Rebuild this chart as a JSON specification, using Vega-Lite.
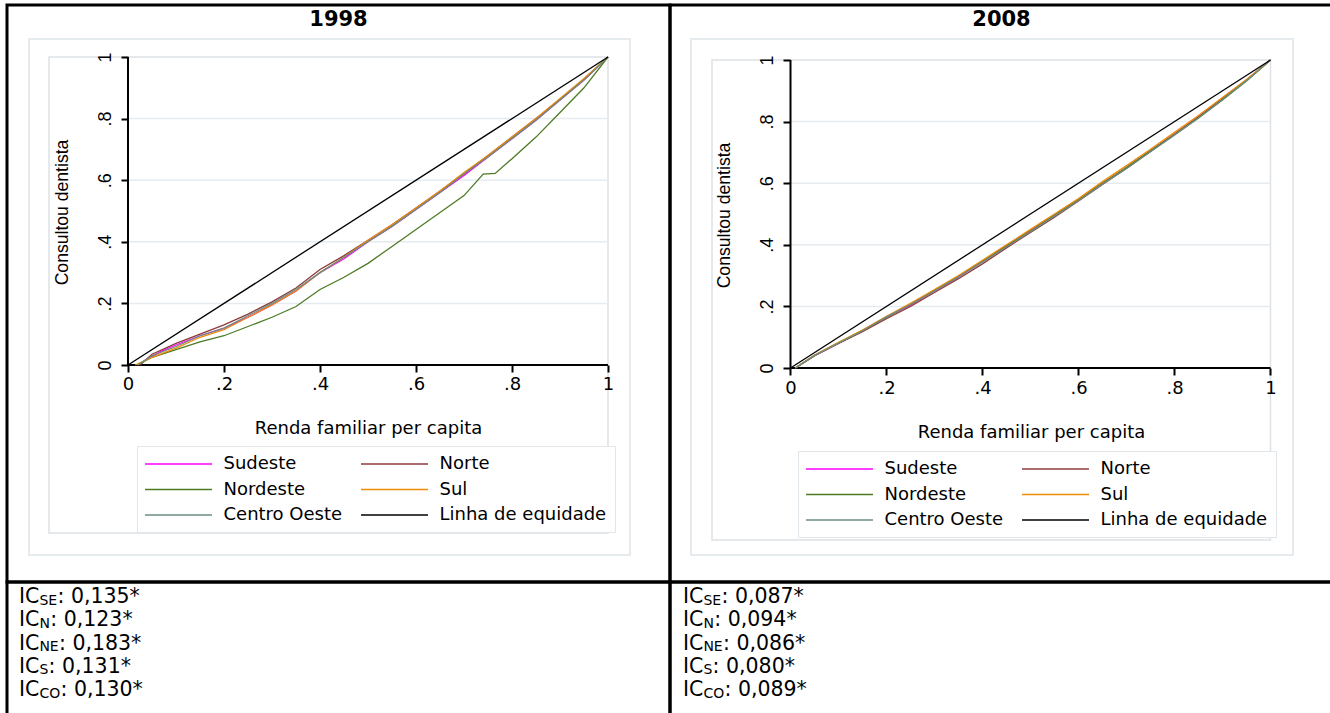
{
  "$schema": "https://vega.github.io/schema/vega-lite/v6.json",
  "background": "white",
  "padding": {"left": 5, "top": 3, "right": -5, "bottom": -6},
  "config": {
    "view": {"stroke": "black", "strokeWidth": 3},
    "font": "DejaVu Sans"
  },
  "datasets": {
    "grade": [{"v": 0.2}, {"v": 0.4}, {"v": 0.6}, {"v": 0.8}],
    "ic": [
      {"a": "1998", "o": 1, "sub": "SE", "val": ": 0,135*"},
      {"a": "1998", "o": 2, "sub": "N", "val": ": 0,123*"},
      {"a": "1998", "o": 3, "sub": "NE", "val": ": 0,183*"},
      {"a": "1998", "o": 4, "sub": "S", "val": ": 0,131*"},
      {"a": "1998", "o": 5, "sub": "CO", "val": ": 0,130*"},
      {"a": "2008", "o": 1, "sub": "SE", "val": ": 0,087*"},
      {"a": "2008", "o": 2, "sub": "N", "val": ": 0,094*"},
      {"a": "2008", "o": 3, "sub": "NE", "val": ": 0,086*"},
      {"a": "2008", "o": 4, "sub": "S", "val": ": 0,080*"},
      {"a": "2008", "o": 5, "sub": "CO", "val": ": 0,089*"}
    ],
    "curvas": [
      {"a":"1998","s":"Sudeste","x":0.02,"y":0},{"a":"1998","s":"Sudeste","x":0.04,"y":0.02},{"a":"1998","s":"Sudeste","x":0.07,"y":0.045},{"a":"1998","s":"Sudeste","x":0.1,"y":0.065},{"a":"1998","s":"Sudeste","x":0.15,"y":0.095},{"a":"1998","s":"Sudeste","x":0.2,"y":0.12},{"a":"1998","s":"Sudeste","x":0.25,"y":0.155},{"a":"1998","s":"Sudeste","x":0.3,"y":0.195},{"a":"1998","s":"Sudeste","x":0.35,"y":0.24},{"a":"1998","s":"Sudeste","x":0.4,"y":0.3},{"a":"1998","s":"Sudeste","x":0.45,"y":0.345},{"a":"1998","s":"Sudeste","x":0.5,"y":0.4},{"a":"1998","s":"Sudeste","x":0.55,"y":0.45},{"a":"1998","s":"Sudeste","x":0.6,"y":0.505},{"a":"1998","s":"Sudeste","x":0.65,"y":0.56},{"a":"1998","s":"Sudeste","x":0.7,"y":0.615},{"a":"1998","s":"Sudeste","x":0.75,"y":0.675},{"a":"1998","s":"Sudeste","x":0.8,"y":0.735},{"a":"1998","s":"Sudeste","x":0.85,"y":0.795},{"a":"1998","s":"Sudeste","x":0.9,"y":0.86},{"a":"1998","s":"Sudeste","x":0.95,"y":0.925},{"a":"1998","s":"Sudeste","x":1,"y":1},
      {"a":"1998","s":"Norte","x":0.025,"y":0},{"a":"1998","s":"Norte","x":0.05,"y":0.035},{"a":"1998","s":"Norte","x":0.1,"y":0.07},{"a":"1998","s":"Norte","x":0.15,"y":0.1},{"a":"1998","s":"Norte","x":0.2,"y":0.13},{"a":"1998","s":"Norte","x":0.25,"y":0.165},{"a":"1998","s":"Norte","x":0.3,"y":0.205},{"a":"1998","s":"Norte","x":0.35,"y":0.25},{"a":"1998","s":"Norte","x":0.4,"y":0.31},{"a":"1998","s":"Norte","x":0.45,"y":0.355},{"a":"1998","s":"Norte","x":0.5,"y":0.405},{"a":"1998","s":"Norte","x":0.55,"y":0.455},{"a":"1998","s":"Norte","x":0.6,"y":0.51},{"a":"1998","s":"Norte","x":0.65,"y":0.565},{"a":"1998","s":"Norte","x":0.7,"y":0.62},{"a":"1998","s":"Norte","x":0.75,"y":0.68},{"a":"1998","s":"Norte","x":0.8,"y":0.74},{"a":"1998","s":"Norte","x":0.85,"y":0.8},{"a":"1998","s":"Norte","x":0.9,"y":0.862},{"a":"1998","s":"Norte","x":0.95,"y":0.928},{"a":"1998","s":"Norte","x":1,"y":1},
      {"a":"1998","s":"Nordeste","x":0.02,"y":0},{"a":"1998","s":"Nordeste","x":0.05,"y":0.025},{"a":"1998","s":"Nordeste","x":0.1,"y":0.05},{"a":"1998","s":"Nordeste","x":0.15,"y":0.075},{"a":"1998","s":"Nordeste","x":0.2,"y":0.095},{"a":"1998","s":"Nordeste","x":0.25,"y":0.125},{"a":"1998","s":"Nordeste","x":0.3,"y":0.155},{"a":"1998","s":"Nordeste","x":0.35,"y":0.19},{"a":"1998","s":"Nordeste","x":0.4,"y":0.245},{"a":"1998","s":"Nordeste","x":0.45,"y":0.285},{"a":"1998","s":"Nordeste","x":0.5,"y":0.33},{"a":"1998","s":"Nordeste","x":0.55,"y":0.385},{"a":"1998","s":"Nordeste","x":0.6,"y":0.44},{"a":"1998","s":"Nordeste","x":0.65,"y":0.495},{"a":"1998","s":"Nordeste","x":0.7,"y":0.55},{"a":"1998","s":"Nordeste","x":0.74,"y":0.62},{"a":"1998","s":"Nordeste","x":0.765,"y":0.622},{"a":"1998","s":"Nordeste","x":0.8,"y":0.67},{"a":"1998","s":"Nordeste","x":0.85,"y":0.74},{"a":"1998","s":"Nordeste","x":0.9,"y":0.82},{"a":"1998","s":"Nordeste","x":0.95,"y":0.9},{"a":"1998","s":"Nordeste","x":1,"y":1},
      {"a":"1998","s":"Sul","x":0.015,"y":0},{"a":"1998","s":"Sul","x":0.05,"y":0.025},{"a":"1998","s":"Sul","x":0.1,"y":0.055},{"a":"1998","s":"Sul","x":0.15,"y":0.09},{"a":"1998","s":"Sul","x":0.2,"y":0.115},{"a":"1998","s":"Sul","x":0.25,"y":0.155},{"a":"1998","s":"Sul","x":0.3,"y":0.195},{"a":"1998","s":"Sul","x":0.35,"y":0.24},{"a":"1998","s":"Sul","x":0.4,"y":0.3},{"a":"1998","s":"Sul","x":0.45,"y":0.35},{"a":"1998","s":"Sul","x":0.5,"y":0.405},{"a":"1998","s":"Sul","x":0.55,"y":0.455},{"a":"1998","s":"Sul","x":0.6,"y":0.51},{"a":"1998","s":"Sul","x":0.65,"y":0.565},{"a":"1998","s":"Sul","x":0.7,"y":0.625},{"a":"1998","s":"Sul","x":0.75,"y":0.68},{"a":"1998","s":"Sul","x":0.8,"y":0.74},{"a":"1998","s":"Sul","x":0.85,"y":0.8},{"a":"1998","s":"Sul","x":0.9,"y":0.865},{"a":"1998","s":"Sul","x":0.95,"y":0.93},{"a":"1998","s":"Sul","x":1,"y":1},
      {"a":"1998","s":"Centro Oeste","x":0.02,"y":0},{"a":"1998","s":"Centro Oeste","x":0.05,"y":0.03},{"a":"1998","s":"Centro Oeste","x":0.1,"y":0.06},{"a":"1998","s":"Centro Oeste","x":0.15,"y":0.095},{"a":"1998","s":"Centro Oeste","x":0.2,"y":0.12},{"a":"1998","s":"Centro Oeste","x":0.25,"y":0.16},{"a":"1998","s":"Centro Oeste","x":0.3,"y":0.2},{"a":"1998","s":"Centro Oeste","x":0.35,"y":0.245},{"a":"1998","s":"Centro Oeste","x":0.4,"y":0.3},{"a":"1998","s":"Centro Oeste","x":0.45,"y":0.35},{"a":"1998","s":"Centro Oeste","x":0.5,"y":0.4},{"a":"1998","s":"Centro Oeste","x":0.55,"y":0.45},{"a":"1998","s":"Centro Oeste","x":0.6,"y":0.505},{"a":"1998","s":"Centro Oeste","x":0.65,"y":0.56},{"a":"1998","s":"Centro Oeste","x":0.7,"y":0.62},{"a":"1998","s":"Centro Oeste","x":0.75,"y":0.675},{"a":"1998","s":"Centro Oeste","x":0.8,"y":0.735},{"a":"1998","s":"Centro Oeste","x":0.85,"y":0.795},{"a":"1998","s":"Centro Oeste","x":0.9,"y":0.86},{"a":"1998","s":"Centro Oeste","x":0.95,"y":0.925},{"a":"1998","s":"Centro Oeste","x":1,"y":1},
      {"a":"1998","s":"Linha de equidade","x":0,"y":0},{"a":"1998","s":"Linha de equidade","x":1,"y":1},
      {"a":"2008","s":"Sudeste","x":0.01,"y":0},{"a":"2008","s":"Sudeste","x":0.05,"y":0.04},{"a":"2008","s":"Sudeste","x":0.1,"y":0.08},{"a":"2008","s":"Sudeste","x":0.15,"y":0.12},{"a":"2008","s":"Sudeste","x":0.2,"y":0.165},{"a":"2008","s":"Sudeste","x":0.25,"y":0.205},{"a":"2008","s":"Sudeste","x":0.3,"y":0.25},{"a":"2008","s":"Sudeste","x":0.35,"y":0.295},{"a":"2008","s":"Sudeste","x":0.4,"y":0.345},{"a":"2008","s":"Sudeste","x":0.45,"y":0.395},{"a":"2008","s":"Sudeste","x":0.5,"y":0.445},{"a":"2008","s":"Sudeste","x":0.55,"y":0.495},{"a":"2008","s":"Sudeste","x":0.6,"y":0.545},{"a":"2008","s":"Sudeste","x":0.65,"y":0.6},{"a":"2008","s":"Sudeste","x":0.7,"y":0.65},{"a":"2008","s":"Sudeste","x":0.75,"y":0.705},{"a":"2008","s":"Sudeste","x":0.8,"y":0.76},{"a":"2008","s":"Sudeste","x":0.85,"y":0.815},{"a":"2008","s":"Sudeste","x":0.9,"y":0.875},{"a":"2008","s":"Sudeste","x":0.95,"y":0.935},{"a":"2008","s":"Sudeste","x":1,"y":1},
      {"a":"2008","s":"Norte","x":0.01,"y":0},{"a":"2008","s":"Norte","x":0.05,"y":0.04},{"a":"2008","s":"Norte","x":0.1,"y":0.08},{"a":"2008","s":"Norte","x":0.15,"y":0.118},{"a":"2008","s":"Norte","x":0.2,"y":0.16},{"a":"2008","s":"Norte","x":0.25,"y":0.2},{"a":"2008","s":"Norte","x":0.3,"y":0.245},{"a":"2008","s":"Norte","x":0.35,"y":0.29},{"a":"2008","s":"Norte","x":0.4,"y":0.338},{"a":"2008","s":"Norte","x":0.45,"y":0.39},{"a":"2008","s":"Norte","x":0.5,"y":0.44},{"a":"2008","s":"Norte","x":0.55,"y":0.49},{"a":"2008","s":"Norte","x":0.6,"y":0.542},{"a":"2008","s":"Norte","x":0.65,"y":0.596},{"a":"2008","s":"Norte","x":0.7,"y":0.648},{"a":"2008","s":"Norte","x":0.75,"y":0.703},{"a":"2008","s":"Norte","x":0.8,"y":0.758},{"a":"2008","s":"Norte","x":0.85,"y":0.815},{"a":"2008","s":"Norte","x":0.9,"y":0.875},{"a":"2008","s":"Norte","x":0.95,"y":0.935},{"a":"2008","s":"Norte","x":1,"y":1},
      {"a":"2008","s":"Nordeste","x":0.01,"y":0},{"a":"2008","s":"Nordeste","x":0.05,"y":0.04},{"a":"2008","s":"Nordeste","x":0.1,"y":0.082},{"a":"2008","s":"Nordeste","x":0.15,"y":0.122},{"a":"2008","s":"Nordeste","x":0.2,"y":0.165},{"a":"2008","s":"Nordeste","x":0.25,"y":0.207},{"a":"2008","s":"Nordeste","x":0.3,"y":0.252},{"a":"2008","s":"Nordeste","x":0.35,"y":0.298},{"a":"2008","s":"Nordeste","x":0.4,"y":0.347},{"a":"2008","s":"Nordeste","x":0.45,"y":0.397},{"a":"2008","s":"Nordeste","x":0.5,"y":0.447},{"a":"2008","s":"Nordeste","x":0.55,"y":0.497},{"a":"2008","s":"Nordeste","x":0.6,"y":0.547},{"a":"2008","s":"Nordeste","x":0.65,"y":0.6},{"a":"2008","s":"Nordeste","x":0.7,"y":0.652},{"a":"2008","s":"Nordeste","x":0.75,"y":0.705},{"a":"2008","s":"Nordeste","x":0.8,"y":0.758},{"a":"2008","s":"Nordeste","x":0.85,"y":0.812},{"a":"2008","s":"Nordeste","x":0.9,"y":0.87},{"a":"2008","s":"Nordeste","x":0.95,"y":0.932},{"a":"2008","s":"Nordeste","x":1,"y":1},
      {"a":"2008","s":"Sul","x":0.01,"y":0},{"a":"2008","s":"Sul","x":0.05,"y":0.042},{"a":"2008","s":"Sul","x":0.1,"y":0.083},{"a":"2008","s":"Sul","x":0.15,"y":0.123},{"a":"2008","s":"Sul","x":0.2,"y":0.168},{"a":"2008","s":"Sul","x":0.25,"y":0.21},{"a":"2008","s":"Sul","x":0.3,"y":0.255},{"a":"2008","s":"Sul","x":0.35,"y":0.3},{"a":"2008","s":"Sul","x":0.4,"y":0.35},{"a":"2008","s":"Sul","x":0.45,"y":0.4},{"a":"2008","s":"Sul","x":0.5,"y":0.45},{"a":"2008","s":"Sul","x":0.55,"y":0.5},{"a":"2008","s":"Sul","x":0.6,"y":0.55},{"a":"2008","s":"Sul","x":0.65,"y":0.605},{"a":"2008","s":"Sul","x":0.7,"y":0.657},{"a":"2008","s":"Sul","x":0.75,"y":0.71},{"a":"2008","s":"Sul","x":0.8,"y":0.765},{"a":"2008","s":"Sul","x":0.85,"y":0.82},{"a":"2008","s":"Sul","x":0.9,"y":0.878},{"a":"2008","s":"Sul","x":0.95,"y":0.937},{"a":"2008","s":"Sul","x":1,"y":1},
      {"a":"2008","s":"Centro Oeste","x":0.01,"y":0},{"a":"2008","s":"Centro Oeste","x":0.05,"y":0.041},{"a":"2008","s":"Centro Oeste","x":0.1,"y":0.081},{"a":"2008","s":"Centro Oeste","x":0.15,"y":0.121},{"a":"2008","s":"Centro Oeste","x":0.2,"y":0.166},{"a":"2008","s":"Centro Oeste","x":0.25,"y":0.206},{"a":"2008","s":"Centro Oeste","x":0.3,"y":0.25},{"a":"2008","s":"Centro Oeste","x":0.35,"y":0.296},{"a":"2008","s":"Centro Oeste","x":0.4,"y":0.344},{"a":"2008","s":"Centro Oeste","x":0.45,"y":0.393},{"a":"2008","s":"Centro Oeste","x":0.5,"y":0.443},{"a":"2008","s":"Centro Oeste","x":0.55,"y":0.493},{"a":"2008","s":"Centro Oeste","x":0.6,"y":0.543},{"a":"2008","s":"Centro Oeste","x":0.65,"y":0.597},{"a":"2008","s":"Centro Oeste","x":0.7,"y":0.648},{"a":"2008","s":"Centro Oeste","x":0.75,"y":0.702},{"a":"2008","s":"Centro Oeste","x":0.8,"y":0.756},{"a":"2008","s":"Centro Oeste","x":0.85,"y":0.812},{"a":"2008","s":"Centro Oeste","x":0.9,"y":0.872},{"a":"2008","s":"Centro Oeste","x":0.95,"y":0.933},{"a":"2008","s":"Centro Oeste","x":1,"y":1},
      {"a":"2008","s":"Linha de equidade","x":0,"y":0},{"a":"2008","s":"Linha de equidade","x":1,"y":1}
    ]
  },
  "columns": 2,
  "spacing": 0,
  "bounds": "flush",
  "resolve": {"scale": {"color": "independent", "strokeWidth": "independent"}},
  "concat": [
    {
      "width": 663,
      "height": 577,
      "title": {"text": "1998", "font": "DejaVu Sans", "fontSize": 21, "fontWeight": "bold", "color": "black", "anchor": "middle", "frame": "group", "baseline": "top", "offset": -25},
      "layer": [
        {
          "data": {"values": [{}]},
          "mark": {"type": "rect", "fill": "white", "stroke": "#e6ebee", "strokeWidth": 2},
          "encoding": {
            "x": {"datum": -0.20625, "type": "quantitative", "scale": {"domain": [-0.25208, 1.12917], "nice": false, "zero": false}},
            "x2": {"datum": 1.04583},
            "y": {"datum": 1.05844, "type": "quantitative", "scale": {"domain": [-0.70455, 1.16883], "nice": false, "zero": false}},
            "y2": {"datum": -0.61688}
          }
        },
        {
          "data": {"values": [{}]},
          "mark": {"type": "rect", "fill": "white", "fillOpacity": 0, "stroke": "#dde2e6", "strokeWidth": 1.5},
          "encoding": {
            "x": {"datum": -0.16458, "type": "quantitative"},
            "x2": {"datum": 1},
            "y": {"datum": 1, "type": "quantitative"},
            "y2": {"datum": -0.54545}
          }
        },
        {
          "data": {"name": "grade"},
          "mark": {"type": "rule", "color": "#e5ebef", "strokeWidth": 1.5},
          "encoding": {
            "x": {"datum": 0, "type": "quantitative"},
            "x2": {"datum": 1},
            "y": {"field": "v", "type": "quantitative"}
          }
        },
        {
          "data": {"values": [{}]},
          "mark": {"type": "rule", "color": "black", "strokeWidth": 2},
          "encoding": {
            "x": {"datum": 0, "type": "quantitative"},
            "x2": {"datum": 1},
            "y": {"datum": 0, "type": "quantitative"}
          }
        },
        {
          "data": {"values": [{}]},
          "mark": {"type": "rule", "color": "black", "strokeWidth": 2},
          "encoding": {
            "x": {"datum": 0, "type": "quantitative"},
            "y": {"datum": 0, "type": "quantitative"},
            "y2": {"datum": 1}
          }
        },
        {
          "data": {"name": "curvas"},
          "transform": [{"filter": "datum.a == '1998'"}],
          "mark": {"type": "line"},
          "encoding": {
            "x": {"field": "x", "type": "quantitative",
              "axis": {"zindex": 1, "orient": "bottom", "offset": -217, "values": [0, 0.2, 0.4, 0.6, 0.8, 1], "labelExpr": "datum.value == 0 ? '0' : datum.value == 1 ? '1' : replace(format(datum.value, '.1f'), '0.', '.')", "grid": false, "domain": false, "ticks": true, "tickColor": "black", "tickWidth": 2, "tickSize": 7, "labels": true, "labelFont": "DejaVu Sans", "labelFontSize": 18, "labelColor": "black", "labelPadding": 3, "labelFlush": false, "labelOverlap": false, "title": "Renda familiar per capita", "titleFont": "DejaVu Sans", "titleFontSize": 18, "titleFontWeight": "normal", "titleColor": "black", "titlePadding": 26, "titleX": 361}},
            "y": {"field": "y", "type": "quantitative",
              "axis": {"zindex": 1, "orient": "left", "offset": -121, "values": [0, 0.2, 0.4, 0.6, 0.8, 1], "labelExpr": "datum.value == 0 ? '0' : datum.value == 1 ? '1' : replace(format(datum.value, '.1f'), '0.', '.')", "grid": false, "domain": false, "ticks": true, "tickColor": "black", "tickWidth": 2, "tickSize": 7, "labels": true, "labelAngle": -90, "labelAlign": "center", "labelBaseline": "bottom", "labelFont": "Liberation Sans", "labelFontSize": 18, "labelColor": "black", "labelPadding": 7, "labelFlush": false, "labelOverlap": false, "title": "Consultou dentista", "titleFont": "Liberation Sans", "titleFontSize": 17.6, "titleFontWeight": "normal", "titleColor": "black", "titlePadding": 25, "titleY": 207}},
            "color": {"field": "s", "type": "nominal",
              "scale": {"domain": ["Sudeste", "Nordeste", "Centro Oeste", "Norte", "Sul", "Linha de equidade"], "range": ["#ff00ff", "#4c7b25", "#6b8e80", "#8e3b3b", "#ee8a07", "#000000"]},
              "legend": {"orient": "none", "legendX": 130, "legendY": 441, "title": null, "columns": 2, "direction": "vertical", "symbolType": "M-3.72,0H3.72", "symbolSize": 324, "symbolOffset": 23.5, "labelOffset": 35, "labelFont": "DejaVu Sans", "labelFontSize": 18, "labelColor": "black", "columnPadding": 15, "rowPadding": 6.5, "padding": 8, "strokeColor": "#e1e6ea", "fillColor": "white", "labelLimit": 400}},
            "strokeWidth": {"field": "s", "type": "nominal",
              "scale": {"domain": ["Sudeste", "Nordeste", "Centro Oeste", "Norte", "Sul", "Linha de equidade"], "range": [1.3, 1.3, 2, 1.3, 1.3, 2]},
              "legend": {"orient": "none", "legendX": 130, "legendY": 441, "title": null, "columns": 2, "direction": "vertical", "symbolType": "M-3.72,0H3.72", "symbolSize": 324, "symbolOffset": 23.5, "labelOffset": 35, "labelFont": "DejaVu Sans", "labelFontSize": 18, "labelColor": "black", "columnPadding": 15, "rowPadding": 6.5, "padding": 8, "strokeColor": "#e1e6ea", "fillColor": "white", "labelLimit": 400}}
          }
        }
      ]
    },
    {
      "width": 663,
      "height": 577,
      "title": {"text": "2008", "font": "DejaVu Sans", "fontSize": 21, "fontWeight": "bold", "color": "black", "anchor": "middle", "frame": "group", "baseline": "top", "offset": -25},
      "layer": [
        {
          "data": {"values": [{}]},
          "mark": {"type": "rect", "fill": "white", "stroke": "#e6ebee", "strokeWidth": 2},
          "encoding": {
            "x": {"datum": -0.20729, "type": "quantitative", "scale": {"domain": [-0.25104, 1.13021], "nice": false, "zero": false}},
            "x2": {"datum": 1.04688},
            "y": {"datum": 1.06818, "type": "quantitative", "scale": {"domain": [-0.69481, 1.17857], "nice": false, "zero": false}},
            "y2": {"datum": -0.60714}
          }
        },
        {
          "data": {"values": [{}]},
          "mark": {"type": "rect", "fill": "white", "fillOpacity": 0, "stroke": "#dde2e6", "strokeWidth": 1.5},
          "encoding": {
            "x": {"datum": -0.16354, "type": "quantitative"},
            "x2": {"datum": 1},
            "y": {"datum": 1, "type": "quantitative"},
            "y2": {"datum": -0.55844}
          }
        },
        {
          "data": {"name": "grade"},
          "mark": {"type": "rule", "color": "#e5ebef", "strokeWidth": 1.5},
          "encoding": {
            "x": {"datum": 0, "type": "quantitative"},
            "x2": {"datum": 1},
            "y": {"field": "v", "type": "quantitative"}
          }
        },
        {
          "data": {"values": [{}]},
          "mark": {"type": "rule", "color": "black", "strokeWidth": 2},
          "encoding": {
            "x": {"datum": 0, "type": "quantitative"},
            "x2": {"datum": 1},
            "y": {"datum": 0, "type": "quantitative"}
          }
        },
        {
          "data": {"values": [{}]},
          "mark": {"type": "rule", "color": "black", "strokeWidth": 2},
          "encoding": {
            "x": {"datum": 0, "type": "quantitative"},
            "y": {"datum": 0, "type": "quantitative"},
            "y2": {"datum": 1}
          }
        },
        {
          "data": {"name": "curvas"},
          "transform": [{"filter": "datum.a == '2008'"}],
          "mark": {"type": "line"},
          "encoding": {
            "x": {"field": "x", "type": "quantitative",
              "axis": {"zindex": 1, "orient": "bottom", "offset": -214, "values": [0, 0.2, 0.4, 0.6, 0.8, 1], "labelExpr": "datum.value == 0 ? '0' : datum.value == 1 ? '1' : replace(format(datum.value, '.1f'), '0.', '.')", "grid": false, "domain": false, "ticks": true, "tickColor": "black", "tickWidth": 2, "tickSize": 7, "labels": true, "labelFont": "DejaVu Sans", "labelFontSize": 18, "labelColor": "black", "labelPadding": 4, "labelFlush": false, "labelOverlap": false, "title": "Renda familiar per capita", "titleFont": "DejaVu Sans", "titleFontSize": 18, "titleFontWeight": "normal", "titleColor": "black", "titlePadding": 26, "titleX": 361}},
            "y": {"field": "y", "type": "quantitative",
              "axis": {"zindex": 1, "orient": "left", "offset": -120, "values": [0, 0.2, 0.4, 0.6, 0.8, 1], "labelExpr": "datum.value == 0 ? '0' : datum.value == 1 ? '1' : replace(format(datum.value, '.1f'), '0.', '.')", "grid": false, "domain": false, "ticks": true, "tickColor": "black", "tickWidth": 2, "tickSize": 7, "labels": true, "labelAngle": -90, "labelAlign": "center", "labelBaseline": "bottom", "labelFont": "Liberation Sans", "labelFontSize": 18, "labelColor": "black", "labelPadding": 7, "labelFlush": false, "labelOverlap": false, "title": "Consultou dentista", "titleFont": "Liberation Sans", "titleFontSize": 17.6, "titleFontWeight": "normal", "titleColor": "black", "titlePadding": 25, "titleY": 210}},
            "color": {"field": "s", "type": "nominal",
              "scale": {"domain": ["Sudeste", "Nordeste", "Centro Oeste", "Norte", "Sul", "Linha de equidade"], "range": ["#ff00ff", "#4c7b25", "#6b8e80", "#8e3b3b", "#ee8a07", "#000000"]},
              "legend": {"orient": "none", "legendX": 128, "legendY": 446, "title": null, "columns": 2, "direction": "vertical", "symbolType": "M-3.72,0H3.72", "symbolSize": 324, "symbolOffset": 23.5, "labelOffset": 35, "labelFont": "DejaVu Sans", "labelFontSize": 18, "labelColor": "black", "columnPadding": 15, "rowPadding": 6.5, "padding": 8, "strokeColor": "#e1e6ea", "fillColor": "white", "labelLimit": 400}},
            "strokeWidth": {"field": "s", "type": "nominal",
              "scale": {"domain": ["Sudeste", "Nordeste", "Centro Oeste", "Norte", "Sul", "Linha de equidade"], "range": [1.3, 1.3, 2, 1.3, 1.3, 2]},
              "legend": {"orient": "none", "legendX": 128, "legendY": 446, "title": null, "columns": 2, "direction": "vertical", "symbolType": "M-3.72,0H3.72", "symbolSize": 324, "symbolOffset": 23.5, "labelOffset": 35, "labelFont": "DejaVu Sans", "labelFontSize": 18, "labelColor": "black", "columnPadding": 15, "rowPadding": 6.5, "padding": 8, "strokeColor": "#e1e6ea", "fillColor": "white", "labelLimit": 400}}
          }
        }
      ]
    },
    {
      "width": 663,
      "height": 135,
      "data": {"name": "ic"},
      "transform": [{"filter": "datum.a == '1998'"}],
      "encoding": {
        "y": {"field": "o", "type": "ordinal", "scale": {"type": "point", "range": [15, 108], "padding": 0}, "axis": null},
        "x": {"datum": 0, "type": "quantitative", "scale": {"domain": [0, 1]}, "axis": null}
      },
      "layer": [
        {"mark": {"type": "text", "align": "left", "baseline": "middle", "font": "DejaVu Sans", "fontSize": 20.5, "dx": 12, "color": "black"}, "encoding": {"text": {"value": "IC"}}},
        {"mark": {"type": "text", "align": "left", "baseline": "middle", "font": "DejaVu Sans", "fontSize": 14, "dx": 32.4, "dy": 3.5, "color": "black"}, "encoding": {"text": {"field": "sub"}}},
        {"mark": {"type": "text", "align": "left", "baseline": "middle", "font": "DejaVu Sans", "fontSize": 20.5, "dx": {"expr": "datum.sub == 'SE' ? 50.5 : datum.sub == 'N' ? 43.3 : datum.sub == 'S' ? 41.6 : datum.sub == 'NE' ? 52 : 53.5"}, "color": "black"}, "encoding": {"text": {"field": "val"}}}
      ]
    },
    {
      "width": 663,
      "height": 135,
      "data": {"name": "ic"},
      "transform": [{"filter": "datum.a == '2008'"}],
      "encoding": {
        "y": {"field": "o", "type": "ordinal", "scale": {"type": "point", "range": [15, 108], "padding": 0}, "axis": null},
        "x": {"datum": 0, "type": "quantitative", "scale": {"domain": [0, 1]}, "axis": null}
      },
      "layer": [
        {"mark": {"type": "text", "align": "left", "baseline": "middle", "font": "DejaVu Sans", "fontSize": 20.5, "dx": 13, "color": "black"}, "encoding": {"text": {"value": "IC"}}},
        {"mark": {"type": "text", "align": "left", "baseline": "middle", "font": "DejaVu Sans", "fontSize": 14, "dx": 33.4, "dy": 3.5, "color": "black"}, "encoding": {"text": {"field": "sub"}}},
        {"mark": {"type": "text", "align": "left", "baseline": "middle", "font": "DejaVu Sans", "fontSize": 20.5, "dx": {"expr": "datum.sub == 'SE' ? 51.5 : datum.sub == 'N' ? 44.3 : datum.sub == 'S' ? 42.6 : datum.sub == 'NE' ? 53 : 54.5"}, "color": "black"}, "encoding": {"text": {"field": "val"}}}
      ]
    }
  ]
}
